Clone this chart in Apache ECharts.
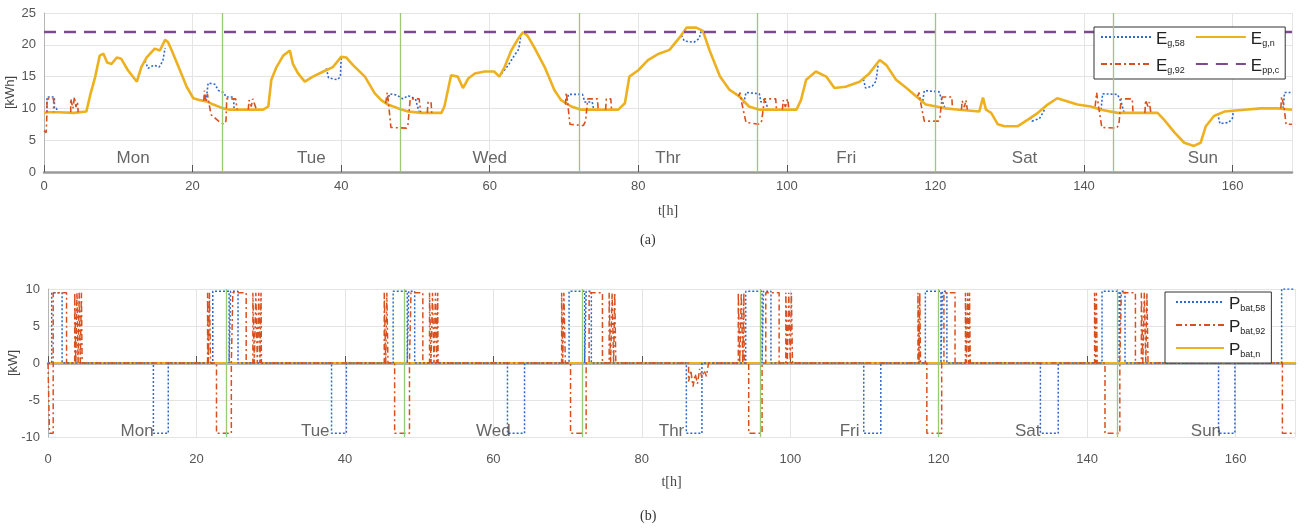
<!DOCTYPE html>
<html lang="en">
<head>
    <meta charset="UTF-8"/>
    <title>Weekly energy and battery power</title>
    <style>
        html, body {
            margin: 0;
            padding: 0;
            width: 100vw;
            height: 100vh;
            background: #ffffff;
            overflow: hidden;
            font-family: "Liberation Sans", Arial, sans-serif;
        }

        #chart {
            width: 1306px;
            height: 531px;
        }
    </style>
</head>
<body>
<div id="chart"></div>
<script src="https://cdn.jsdelivr.net/npm/echarts@6/dist/echarts.min.js"></script>
<script>
    const chart = echarts.init(document.getElementById('chart'));

    // day names and where they are written on the time axis
    const dayNames = ['Mon', 'Tue', 'Wed', 'Thr', 'Fri', 'Sat', 'Sun'];
    const dayX = [12, 36, 60, 84, 108, 132, 156];
    const dayBreaks = [24, 48, 72, 96, 120, 144];
    const dayLabelYTop = 2.2;
    const dayLabelYBottom = -9.2;

    // (a) energy [kWh], points are [t, value], null breaks a line
    const eGn = [
        [0, 9.3], [0.5, 9.4], [2, 9.4], [4, 9.3], [5.7, 9.5], [6.2, 12], [6.9, 15], [7.5, 18.3], [8, 18.6],
        [8.5, 17.2], [9.1, 17], [9.8, 18], [10.4, 17.8], [11.3, 16], [12.5, 14.2], [13.1, 16.5], [13.8, 18],
        [14.9, 19.4], [15.6, 19.1], [16.3, 20.8], [16.7, 20.4], [17.2, 19.1], [18.3, 16], [19.2, 13.4],
        [20.1, 11.6], [21, 11.3], [21.9, 11.1], [22.8, 10.6], [24.1, 10], [25, 9.8], [29.5, 9.8], [30.2, 10.3],
        [30.6, 14.5], [31.3, 16.5], [32.2, 18.3], [33.1, 19.1], [33.5, 17], [34.2, 15.5], [35.1, 14.2],
        [36.2, 15], [37.6, 15.8], [38.9, 16.5], [40, 18.1], [40.7, 18], [41.6, 16.8], [43.2, 15], [44.5, 12.4],
        [45.4, 11.3], [46.3, 10.6], [47.7, 10], [49, 9.5], [50.8, 9.3], [53.5, 9.3], [53.9, 10.3], [54.8, 15.2],
        [55.7, 15], [56.4, 13.2], [57.1, 14.7], [58, 15.5], [59.3, 15.8], [60.6, 15.8], [61.3, 15], [62, 16.5],
        [62.9, 19.1], [63.8, 20.9], [64.5, 22], [65.1, 21.4], [66, 19.6], [67.4, 16.5], [68.7, 12.9],
        [69.6, 11.3], [71, 10.3], [72.3, 9.8], [77.3, 9.8], [78.2, 10.8], [78.8, 15], [80, 16], [81.3, 17.6],
        [82.6, 18.5], [84.2, 19.2], [85.6, 21.2], [86.5, 22.7], [87.8, 22.7], [88.7, 22.2], [89.6, 19.1],
        [91, 15], [92.3, 12.9], [93.6, 11.9], [94.9, 10.3], [96.3, 9.8], [101.3, 9.8], [101.9, 11.3],
        [102.6, 14.5], [103.9, 15.8], [105.3, 15], [106.4, 13.2], [107.9, 13.4], [109.8, 14.2], [111.1, 15.5],
        [112.5, 17.6], [113.4, 16.8], [114.7, 14.5], [116.1, 13.2], [117.4, 11.9], [118.7, 10.6], [120.1, 10.3],
        [121.4, 10], [123.2, 9.8], [125.9, 9.5], [126.4, 11.7], [126.8, 9.8], [127.5, 9.3], [128.4, 7.5],
        [129.3, 7.2], [131.1, 7.2], [132.4, 8.2], [133.8, 9.3], [135.1, 10.6], [136.4, 11.6], [137.8, 11.1],
        [139.1, 10.6], [140.9, 10.3], [142.3, 9.8], [144.5, 9.3], [149.9, 9.3], [150.8, 8.2], [152.2, 6.2],
        [153.5, 4.6], [154.8, 4.1], [155.7, 4.6], [156.4, 7.2], [157.5, 8.8], [158.9, 9.5], [161.6, 9.8],
        [163.8, 10], [166.1, 10], [168, 9.8]
    ];

    // E_g,58 only where it leaves E_g,n
    const eG58 = [
        [0.4, 9.4], [0.4, 11.8], [1.4, 11.8], [1.4, 10], [1.7, 10], [1.7, 9.4], null,
        [13.6, 17.5], [14, 16.3], [14.8, 16.8], [15.5, 16.5], [16, 17.5], [16.3, 19.5], null,
        [21.8, 11.1], [22.1, 14], [23, 13.8], [23.5, 12.8], [24.2, 12.5], [24.5, 11.8], [25.5, 11.8], [25.6, 9.8], null,
        [38, 16.3], [38.3, 14.8], [39.5, 14.5], [39.9, 15], [40, 18], null,
        [46.2, 10.6], [46.5, 12.3], [47.5, 12.1], [48.3, 11.5], [49, 12], [50, 11.5], [50.5, 9.4], null,
        [61.2, 15], [61.5, 15.3], [62.5, 16.8], [63.3, 18.3], [63.9, 19.3], [64.2, 21.5], null,
        [70.3, 10.6], [70.6, 12.2], [72.5, 12.2], [72.8, 11], [73.8, 11], [74, 9.8], null,
        [85.8, 21.5], [86.2, 20.6], [87.5, 20.4], [88.2, 21], [88.5, 22.3], null,
        [94.2, 10.8], [94.5, 12.5], [96.3, 12.3], [96.5, 11], [97, 11.5], [97.5, 9.8], null,
        [110.3, 14.6], [110.6, 13.2], [111.5, 13.5], [112, 14.3], [112.3, 17], null,
        [118.3, 11.2], [118.5, 12.8], [120.5, 12.6], [120.8, 11.5], [121.3, 10], null,
        [132.8, 8.6], [133, 8], [134, 8.4], [134.6, 9.6], [134.8, 10.5], null,
        [142.3, 9.8], [142.5, 12.3], [144.5, 12.2], [145, 11], [145.4, 9.3], null,
        [158, 9.2], [158.3, 7.6], [159.5, 7.8], [160, 8.5], [160.1, 9.6], null,
        [166.8, 10], [167, 12.5], [167.8, 12.5]
    ];

    // E_g,92 only where it leaves E_g,n
    const eG92 = [
        [0, 6.5], [0.3, 6.2], [0.4, 9.4], [0.4, 11.5], [1.3, 11.5], [1.3, 9.4], null,
        [3.6, 9.4], [3.6, 11.5], [3.9, 10], [4.1, 11.8], [4.3, 10.2], [4.5, 11], [4.6, 9.4], null,
        [21.5, 11.2], [21.6, 12.8], [21.8, 11], [22, 12.3], [22.2, 10.8], [22.5, 9], [23.5, 8], [24.2, 7.5],
        [24.5, 8], [24.6, 11.5], [25.8, 11.5], [26, 9.8], null,
        [27.5, 9.8], [27.6, 11.3], [27.9, 10.3], [28.1, 11.5], [28.4, 10.5], [28.6, 9.8], null,
        [46, 10.8], [46.2, 12.5], [46.4, 10.5], [46.7, 7], [48.8, 6.9], [49, 7.5], [49.3, 11.5], [50.5, 11.5],
        [50.7, 9.4], null,
        [51.6, 9.3], [51.7, 11], [52.1, 11], [52.2, 9.3], null,
        [70.2, 10.6], [70.3, 12.5], [70.5, 10.8], [70.8, 7.5], [72.6, 7.3], [72.9, 8], [73.2, 11.5], [74.5, 11.5],
        [74.6, 9.8], null,
        [75.6, 9.8], [75.7, 11.5], [76.3, 11.5], [76.4, 9.8], null,
        [93.5, 11.9], [93.7, 12.5], [93.9, 11], [94.5, 7.8], [96.3, 7.5], [96.6, 8], [97, 11.5], [98.5, 11.5],
        [98.6, 9.8], null,
        [99.4, 9.8], [99.5, 11.3], [99.8, 10.2], [100.1, 11.5], [100.3, 9.8], null,
        [117.6, 11.9], [117.8, 12.5], [118, 11], [118.5, 8], [120.4, 8], [120.6, 8.5], [120.9, 11.8],
        [122.2, 11.8], [122.3, 10], null,
        [123.5, 9.8], [123.6, 11.2], [123.9, 10.2], [124.1, 11.3], [124.3, 9.8], null,
        [141.5, 10.3], [141.7, 12.5], [141.9, 10.8], [142.4, 7], [144.4, 6.9], [144.7, 7.5], [145, 11.5],
        [146.5, 11.5], [146.6, 9.3], null,
        [148.2, 9.3], [148.3, 11.3], [148.6, 10.3], [148.8, 11], [149, 9.3], null,
        [166.5, 10], [166.6, 11.8], [166.9, 10.5], [167.2, 7.5], [168, 7.5]
    ];

    const ePpc = [[0, 22], [168, 22]];

    // (b) battery power [kW]
    const pBat58 = [
        [0, 0], [0.5, 0], [0.5, 9.5], [1.9, 9.5], [1.9, 0],
        [14.2, 0], [14.2, -9.5], [16.2, -9.5], [16.2, 0],
        [22.2, 0], [22.2, 9.7], [24.4, 9.7], [24.4, 0], [24.6, 0], [24.6, 9.7], [25.6, 9.7], [25.6, 0],
        [38.2, 0], [38.2, -9.5], [40.2, -9.5], [40.2, 0],
        [46.5, 0], [46.5, 9.7], [48.4, 9.7], [48.4, 0], [48.6, 0], [48.6, 9.7], [49.4, 9.7], [49.4, 0],
        [61.9, 0], [61.9, -9.5], [64.2, -9.5], [64.2, 0],
        [70.2, 0], [70.2, 9.7], [72.3, 9.7], [72.3, 0], [72.5, 0], [72.5, 9.7], [73.2, 9.7], [73.2, 0],
        [86, 0], [86, -9.5], [88.1, -9.5], [88.1, 0],
        [94, 0], [94, 9.7], [96.2, 9.7], [96.2, 0], [96.4, 0], [96.4, 9.7], [97.4, 9.7], [97.4, 0],
        [109.9, 0], [109.9, -9.5], [112.2, -9.5], [112.2, 0],
        [118.2, 0], [118.2, 9.7], [120.3, 9.7], [120.3, 0], [120.5, 0], [120.5, 9.7], [121.1, 9.7], [121.1, 0],
        [133.7, 0], [133.7, -9.5], [136.1, -9.5], [136.1, 0],
        [142, 0], [142, 9.7], [144.3, 9.7], [144.3, 0], [144.5, 0], [144.5, 9.7], [145.1, 9.7], [145.1, 0],
        [157.7, 0], [157.7, -9.5], [159.9, -9.5], [159.9, 0],
        [166.2, 0], [166.2, 10], [168, 10]
    ];

    const pBat92 = [
        [0, 0], [0.2, 0], [0.2, -9.5], [0.7, -9.5], [0.7, 9.5], [2.5, 9.5], [2.5, 0],
        [3.6, 0], [3.6, 9.5], [3.75, 9.5], [3.75, 0], [3.9, 0], [3.9, 9.5], [4.05, 9.5], [4.05, 0],
        [4.2, 0], [4.2, 9.5], [4.35, 9.5], [4.35, 0], [4.5, 0], [4.5, 9.5], [4.6, 9.5], [4.6, 0],
        [21.5, 0], [21.5, 9.5], [21.6, 9.5], [21.6, 0], [21.75, 0], [21.75, 9.5], [21.9, 9.5], [21.9, 0],
        [22.7, 0], [22.7, -9.5], [24.7, -9.5], [24.7, 0], [24.9, 0], [24.9, 9.5], [26.7, 9.5], [26.7, 0],
        [27.6, 0], [27.6, 9.5], [27.8, 9.5], [27.8, 0], [28, 0], [28, 9.5], [28.2, 9.5], [28.2, 0],
        [28.4, 0], [28.4, 9.5], [28.55, 9.5], [28.55, 0], [28.7, 0], [28.7, 9.5], [28.75, 9.5], [28.75, 0],
        [45.3, 0], [45.3, 9.5], [45.5, 9.5], [45.5, 0], [45.65, 0], [45.65, 9.5], [45.8, 9.5], [45.8, 0],
        [46.7, 0], [46.7, -9.5], [48.7, -9.5], [48.7, 0], [48.9, 0], [48.9, 9.5], [50.5, 9.5], [50.5, 0],
        [51.4, 0], [51.4, 9.5], [51.6, 9.5], [51.6, 0], [51.8, 0], [51.8, 9.5], [52, 9.5], [52, 0],
        [52.2, 0], [52.2, 9.5], [52.35, 9.5], [52.35, 0], [52.5, 0], [52.5, 9.5], [52.55, 9.5], [52.55, 0],
        [69.2, 0], [69.2, 9.5], [69.35, 9.5], [69.35, 0], [69.5, 0], [69.5, 9.5], [69.7, 9.5], [69.7, 0],
        [70.4, 0], [70.4, -9.5], [72.5, -9.5], [72.5, 0], [72.9, 0], [72.9, 9.5], [74.7, 9.5], [74.7, 0],
        [75.6, 0], [75.6, 9.5], [75.8, 9.5], [75.8, 0], [76, 0], [76, 9.5], [76.2, 9.5], [76.2, 0],
        [76.35, 0], [76.35, 9.5], [76.5, 9.5], [76.5, 0],
        [86.3, 0], [86.3, -2.5], [86.6, -1], [86.9, -3.2], [87.2, -1.5], [87.5, -2.8], [87.8, -0.8],
        [88.1, -2], [88.4, -1], [88.7, -1.8], [89, 0],
        [93, 0], [93, 9.5], [93.2, 9.5], [93.2, 0], [93.4, 0], [93.4, 9.5], [93.6, 9.5], [93.6, 0],
        [93.75, 0], [93.75, 9.5], [93.8, 9.5], [93.8, 0],
        [94.4, 0], [94.4, -9.5], [96.2, -9.5], [96.2, 0], [96.7, 0], [96.7, 9.5], [98.5, 9.5], [98.5, 0],
        [99.4, 0], [99.4, 9.5], [99.6, 9.5], [99.6, 0], [99.8, 0], [99.8, 9.5], [100, 9.5], [100, 0],
        [100.15, 0], [100.15, 9.5], [100.3, 9.5], [100.3, 0],
        [117.2, 0], [117.2, 9.5], [117.35, 9.5], [117.35, 0], [117.45, 0], [117.45, 9.5], [117.55, 9.5], [117.55, 0],
        [118.4, 0], [118.4, -9.5], [120.4, -9.5], [120.4, 0], [120.7, 0], [120.7, 9.5], [122.2, 9.5], [122.2, 0],
        [123.6, 0], [123.6, 9.5], [123.75, 9.5], [123.75, 0], [123.9, 0], [123.9, 9.5], [124.05, 9.5], [124.05, 0],
        [124.15, 0], [124.15, 9.5], [124.25, 9.5], [124.25, 0],
        [141, 0], [141, 9.5], [141.15, 9.5], [141.15, 0], [141.25, 0], [141.25, 9.5], [141.35, 9.5], [141.35, 0],
        [142.4, 0], [142.4, -9.5], [144.4, -9.5], [144.4, 0], [144.6, 0], [144.6, 9.5], [146.5, 9.5], [146.5, 0],
        [147.3, 0], [147.3, 9.5], [147.5, 9.5], [147.5, 0], [147.7, 0], [147.7, 9.5], [147.9, 9.5], [147.9, 0],
        [148.05, 0], [148.05, 9.5], [148.2, 9.5], [148.2, 0],
        [166.3, 0], [166.3, -9.5], [168, -9.5]
    ];

    const pBatN = [[0, 0], [168, 0]];

    const blue = '#2f68cc';
    const red = '#d9501e';
    const yellow = '#edb120';
    const purple = '#7e4a8e';
    const green = '#9acb72';

    const withBreaks = arr => arr.map(p => p === null ? ['-', '-'] : p);

    const richText = {
        m: {fontSize: 17, color: '#222', lineHeight: 22, verticalAlign: 'bottom'},
        s: {fontSize: 9, color: '#222', lineHeight: 8, verticalAlign: 'bottom'}
    };
    const subFormat = name => {
        const parts = name.split('|');
        return `{m|${parts[0]}}{s|${parts[1]}}`;
    };

    function daySeries(yValue, xi, yi) {
        return {
            type: 'scatter',
            xAxisIndex: xi,
            yAxisIndex: yi,
            symbolSize: 1,
            itemStyle: {color: 'rgba(0,0,0,0)'},
            silent: true,
            z: 5,
            label: {
                show: true,
                position: 'inside',
                formatter: '{b}',
                fontSize: 17,
                color: '#404040'
            },
            data: dayNames.map((d, i) => ({name: d, value: [dayX[i], yValue]}))
        };
    }

    function dayBorderLines() {
        return {
            silent: true,
            symbol: ['none', 'none'],
            label: {show: false},
            lineStyle: {color: green, type: 'solid', width: 1.3},
            data: dayBreaks.map(x => ({xAxis: x}))
        };
    }

    const xAxisBase = {
        type: 'value',
        min: 0,
        max: 168,
        interval: 20,
        name: 't[h]',
        nameLocation: 'middle',
        nameMoveOverlap: false,
        nameTextStyle: {fontSize: 14, color: '#444', fontFamily: 'Liberation Serif'},
        axisLine: {lineStyle: {color: '#9a9a9a', width: 2.5}},
        axisTick: {inside: true, length: 7, lineStyle: {color: '#555'}},
        axisLabel: {fontSize: 13, color: '#555', showMaxLabel: false},
        splitLine: {show: true, lineStyle: {color: '#e4e4e4'}}
    };

    const yAxisBase = {
        type: 'value',
        nameLocation: 'middle',
        nameRotate: 90,
        nameMoveOverlap: false,
        nameTextStyle: {fontSize: 13, color: '#444'},
        axisLine: {show: true, lineStyle: {color: '#b5b5b5', width: 1}},
        axisTick: {show: false},
        axisLabel: {fontSize: 13, color: '#555'},
        splitLine: {show: true, lineStyle: {color: '#e4e4e4'}}
    };

    const legendBase = {
        borderColor: '#333',
        borderWidth: 1,
        backgroundColor: '#ffffff',
        formatter: subFormat,
        textStyle: {rich: richText},
        // hide the marker dot, keep only the line sample
        itemStyle: {color: 'rgba(0,0,0,0)', borderWidth: 0, opacity: 0},
        selectedMode: false
    };

    const option = {
        backgroundColor: '#ffffff',
        animation: false,
        textStyle: {fontFamily: 'Liberation Sans, Arial, sans-serif'},
        grid: [
            {left: 44, right: 14, top: 13, bottom: 359, outerBoundsMode: 'none'},
            {left: 48, right: 11, top: 289, bottom: 94, outerBoundsMode: 'none'}
        ],
        xAxis: [
            Object.assign({}, xAxisBase, {gridIndex: 0, nameGap: 32}),
            Object.assign({}, xAxisBase, {gridIndex: 1, nameGap: 30, offset: 8})
        ],
        yAxis: [
            Object.assign({}, yAxisBase, {gridIndex: 0, min: 0, max: 25, interval: 5, name: '[kWh]', nameGap: 27}),
            Object.assign({}, yAxisBase, {gridIndex: 1, min: -10, max: 10, interval: 5, name: '[kW]', nameGap: 28})
        ],
        legend: [
            Object.assign({}, legendBase, {
                data: ['E|g,58', 'E|g,n', 'E|g,92', 'E|pp,c'],
                left: 1094,
                top: 27,
                width: 180,
                orient: 'horizontal',
                itemWidth: 50,
                itemHeight: 14,
                itemGap: 10,
                padding: [4, 6, 4, 6]
            }),
            Object.assign({}, legendBase, {
                data: ['P|bat,58', 'P|bat,92', 'P|bat,n'],
                left: 1165,
                top: 292,
                orient: 'vertical',
                itemWidth: 48,
                itemHeight: 14,
                itemGap: 6,
                padding: [4, 6, 4, 10]
            })
        ],
        series: [
            {
                name: 'E|g,58', type: 'line', xAxisIndex: 0, yAxisIndex: 0, symbol: 'none',
                lineStyle: {color: blue, width: 1.6, type: [2, 2]}, itemStyle: {color: blue},
                data: withBreaks(eG58)
            },
            {
                name: 'E|g,n', type: 'line', xAxisIndex: 0, yAxisIndex: 0, symbol: 'none',
                lineStyle: {color: yellow, width: 2.6}, itemStyle: {color: yellow},
                data: eGn,
                markLine: dayBorderLines()
            },
            {
                name: 'E|g,92', type: 'line', xAxisIndex: 0, yAxisIndex: 0, symbol: 'none',
                lineStyle: {color: red, width: 1.6, type: [6, 3, 2, 3]}, itemStyle: {color: red},
                data: withBreaks(eG92)
            },
            {
                name: 'E|pp,c', type: 'line', xAxisIndex: 0, yAxisIndex: 0, symbol: 'none',
                lineStyle: {color: purple, width: 2.5, type: [12, 8]}, itemStyle: {color: purple},
                data: ePpc
            },
            daySeries(dayLabelYTop, 0, 0),
            {
                name: 'P|bat,n', type: 'line', xAxisIndex: 1, yAxisIndex: 1, symbol: 'none',
                lineStyle: {color: yellow, width: 2}, itemStyle: {color: yellow},
                data: pBatN,
                markLine: dayBorderLines(),
                z: 1
            },
            {
                name: 'P|bat,58', type: 'line', xAxisIndex: 1, yAxisIndex: 1, symbol: 'none',
                lineStyle: {color: blue, width: 1.5, type: [2, 2]}, itemStyle: {color: blue},
                data: pBat58
            },
            {
                name: 'P|bat,92', type: 'line', xAxisIndex: 1, yAxisIndex: 1, symbol: 'none',
                lineStyle: {color: red, width: 1.5, type: [6, 3, 2, 3]}, itemStyle: {color: red},
                data: pBat92
            },
            daySeries(dayLabelYBottom, 1, 1)
        ],
        graphic: [
            {
                type: 'text', left: 640, top: 233,
                style: {text: '(a)', font: '14px "Liberation Serif"', fill: '#333'}
            },
            {
                type: 'text', left: 640, top: 509,
                style: {text: '(b)', font: '14px "Liberation Serif"', fill: '#333'}
            }
        ]
    };

    chart.setOption(option);

    window.addEventListener('resize', () => {
        chart.resize();
    });
</script>
</body>
</html>
